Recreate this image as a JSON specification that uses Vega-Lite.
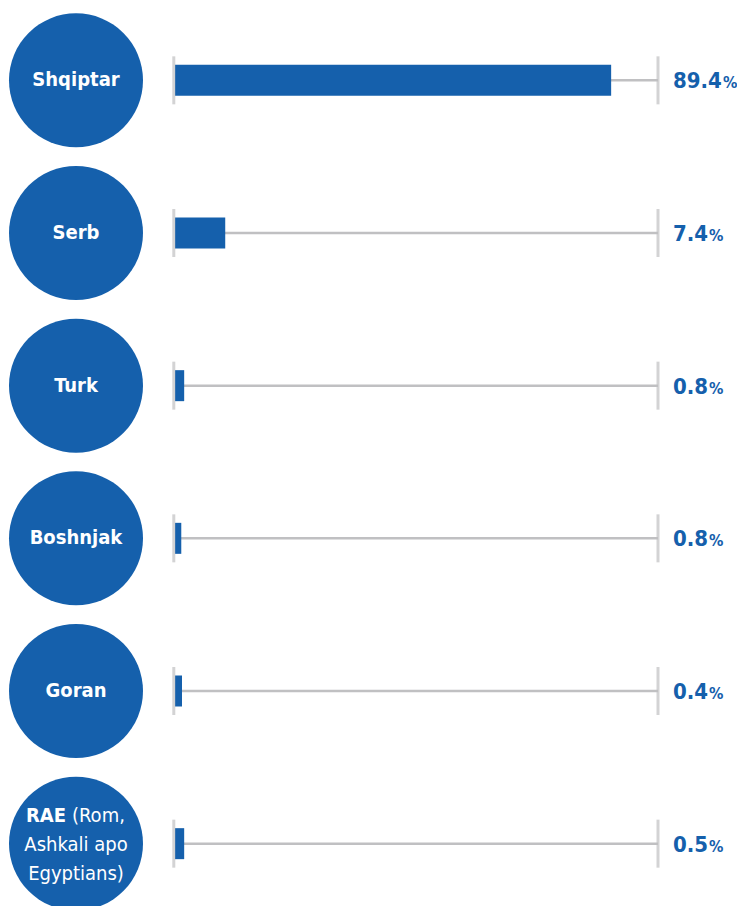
{
  "$schema": "https://vega.github.io/schema/vega-lite/v6.json",
  "padding": {"left": 0, "top": 4, "right": 0, "bottom": 0},
  "background": "white",
  "config": {"view": {"stroke": null}, "concat": {"spacing": 20}},
  "data": {"values": [
    {"cat": "Shqiptar", "share": 89.4, "bar": 90.3, "bold": "", "rest": "", "more": ""},
    {"cat": "Serb", "share": 7.4, "bar": 10.4, "bold": "", "rest": "", "more": ""},
    {"cat": "Turk", "share": 0.8, "bar": 1.9, "bold": "", "rest": "", "more": ""},
    {"cat": "Boshnjak", "share": 0.8, "bar": 1.3, "bold": "", "rest": "", "more": ""},
    {"cat": "Goran", "share": 0.4, "bar": 1.45, "bold": "", "rest": "", "more": ""},
    {"cat": "RAE", "share": 0.5, "bar": 1.9, "bold": "RAE", "rest": "(Rom,", "more": "Ashkali apo\nEgyptians)"}
  ]},
  "hconcat": [
    {
      "width": 152,
      "height": 916,
      "encoding": {
        "y": {"field": "cat", "type": "nominal", "sort": null, "axis": null,
              "scale": {"type": "point", "padding": 0.5, "domain": ["Shqiptar", "Serb", "Turk", "Boshnjak", "Goran", "RAE"]}}
      },
      "layer": [
        {"mark": {"type": "point", "shape": "circle", "filled": true, "size": 17956, "color": "#1560ac", "opacity": 1}},
        {"transform": [{"filter": "datum.cat != 'RAE'"}],
         "mark": {"type": "text", "font": "DejaVu Sans Condensed", "fontWeight": "bold", "fontSize": 20, "color": "white", "baseline": "middle", "align": "center"},
         "encoding": {"text": {"field": "cat"}}},
        {"transform": [{"filter": "datum.cat == 'RAE'"}],
         "mark": {"type": "text", "font": "DejaVu Sans Condensed", "fontWeight": "bold", "fontSize": 20, "color": "white", "baseline": "middle", "align": "right", "dx": -10, "dy": -28},
         "encoding": {"text": {"field": "bold"}}},
        {"transform": [{"filter": "datum.cat == 'RAE'"}],
         "mark": {"type": "text", "font": "DejaVu Sans Condensed", "fontSize": 20, "color": "white", "baseline": "middle", "align": "left", "dx": -4, "dy": -28},
         "encoding": {"text": {"field": "rest"}}},
        {"transform": [{"filter": "datum.cat == 'RAE'"}],
         "mark": {"type": "text", "font": "DejaVu Sans Condensed", "fontSize": 20, "color": "white", "baseline": "top", "align": "center", "dy": -9, "lineBreak": "\n", "lineHeight": 29},
         "encoding": {"text": {"field": "more"}}}
      ]
    },
    {
      "width": 483,
      "height": 916,
      "encoding": {
        "y": {"field": "cat", "type": "nominal", "sort": null, "axis": null,
              "scale": {"type": "point", "padding": 0.5, "domain": ["Shqiptar", "Serb", "Turk", "Boshnjak", "Goran", "RAE"]}}
      },
      "layer": [
        {"mark": {"type": "rule", "color": "#c0c0c2", "strokeWidth": 2.5},
         "encoding": {"x": {"datum": 0, "type": "quantitative", "scale": {"domain": [0, 100], "nice": false}, "axis": null}, "x2": {"datum": 100}}},
        {"mark": {"type": "bar", "size": 31, "color": "#1560ac"},
         "encoding": {"x": {"field": "bar", "type": "quantitative", "scale": {"domain": [0, 100], "nice": false}, "axis": null}, "x2": {"datum": 0}}},
        {"mark": {"type": "tick", "size": 48, "thickness": 3, "color": "#c0c0c2", "orient": "vertical"},
         "encoding": {"x": {"datum": -0.25, "type": "quantitative", "scale": {"domain": [0, 100], "nice": false}, "axis": null}}},
        {"mark": {"type": "tick", "size": 48, "thickness": 3, "color": "#c0c0c2", "orient": "vertical"},
         "encoding": {"x": {"datum": 100, "type": "quantitative", "scale": {"domain": [0, 100], "nice": false}, "axis": null}}},
        {"mark": {"type": "text", "font": "DejaVu Sans Condensed", "fontWeight": "bold", "fontSize": 22, "color": "#1560ac", "baseline": "middle", "align": "left", "dx": 15, "dy": 1},
         "encoding": {"x": {"datum": 100, "type": "quantitative", "scale": {"domain": [0, 100], "nice": false}, "axis": null},
                      "text": {"field": "share", "type": "quantitative", "format": ".1f"}}},
        {"mark": {"type": "text", "font": "DejaVu Sans Condensed", "fontWeight": "bold", "fontSize": 16, "color": "#1560ac", "baseline": "middle", "align": "left", "dy": 3,
                  "dx": {"expr": "23.5 + (length(format(datum.share, '.1f')) - 1) * 13.8"}},
         "encoding": {"x": {"datum": 100, "type": "quantitative", "scale": {"domain": [0, 100], "nice": false}, "axis": null},
                      "text": {"value": "%"}}}
      ]
    }
  ]
}
